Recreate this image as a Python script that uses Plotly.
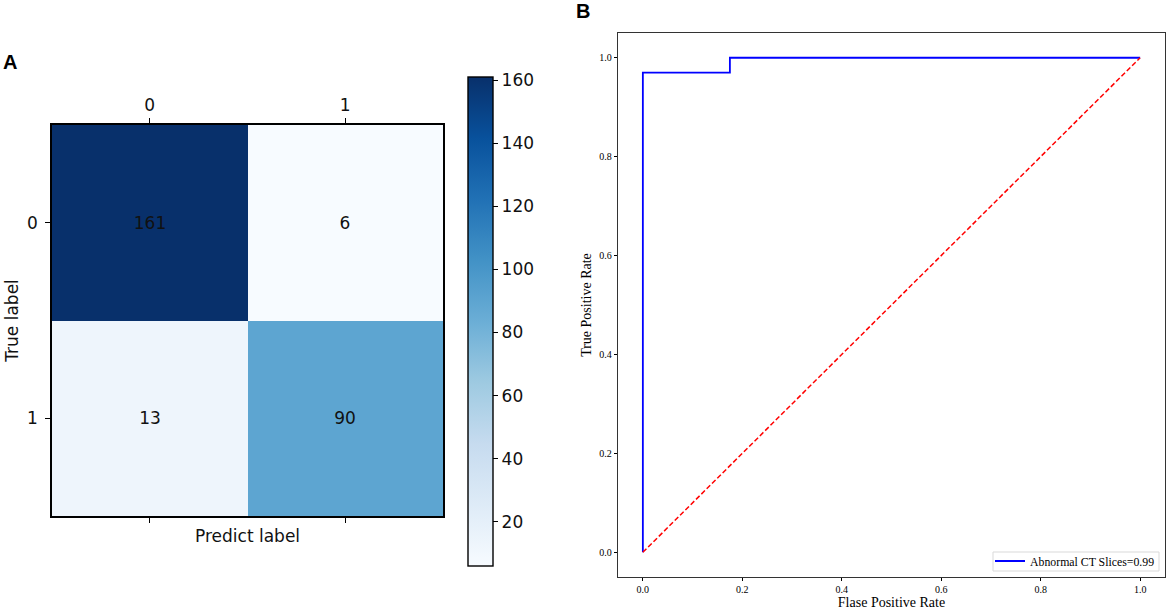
import plotly.graph_objects as go

W, H = 1170, 612

# Panel A data
cm_labels = [0, 1]
cm_values = [[161, 6], [13, 90]]
cbar_ticks = [20, 40, 60, 80, 100, 120, 140, 160]
blues = ["#f7fbff", "#deebf7", "#c6dbef", "#9ecae1", "#6baed6",
         "#4292c6", "#2171b5", "#08519c", "#08306b"]

# Panel B data
roc_fpr = [0.0, 0.0, 0.175, 0.175, 1.0]
roc_tpr = [0.0, 0.97, 0.97, 1.0, 1.0]
diag_x = [0, 1]
diag_y = [0, 1]
roc_ticks = [0.0, 0.2, 0.4, 0.6, 0.8, 1.0]
roc_name = "Abnormal CT Slices=0.99"


def fx(p):
    return p / W


def fy(p):
    return 1 - p / H


A_FONT = dict(family="DejaVu Sans", size=17, color="#111111")
fig = go.Figure()
colorscale = [[i / (len(blues) - 1), c] for i, c in enumerate(blues)]

fig.add_trace(go.Heatmap(
    z=cm_values, x=cm_labels, y=cm_labels, zmin=6, zmax=161,
    colorscale=colorscale, xgap=0, ygap=0,
    text=cm_values, texttemplate="%{text}",
    textfont=A_FONT,
    xaxis="x", yaxis="y", showscale=True,
    colorbar=dict(
        x=fx(468), xanchor="left", xpad=0, y=fy(321.5), yanchor="middle", ypad=0,
        thickness=25, thicknessmode="pixels",
        len=489, lenmode="pixels",
        tickmode="array", tickvals=cbar_ticks, tickprefix=" ",
        ticks="outside", ticklen=5, tickwidth=1, tickcolor="black",
        tickfont=A_FONT,
        outlinewidth=1.4, outlinecolor="black",
    ),
))

fig.add_trace(go.Scatter(
    x=roc_fpr, y=roc_tpr, mode="lines", name=roc_name,
    line=dict(color="#0000ff", width=1.8), xaxis="x2", yaxis="y2",
))
fig.add_trace(go.Scatter(
    x=diag_x, y=diag_y, mode="lines", showlegend=False,
    line=dict(color="#ff0000", width=1.5, dash="5px,2.5px"), xaxis="x2", yaxis="y2",
))

a_axis = dict(
    tickmode="array", tickvals=cm_labels, range=[-0.5, 1.5],
    showgrid=False, zeroline=False,
    showline=True, linecolor="black", linewidth=1.5,
    ticks="outside", ticklen=5, tickwidth=1, tickcolor="black",
    tickfont=A_FONT,
)
b_font = dict(family="Liberation Serif", size=10, color="black")
b_axis = dict(
    tickmode="array", tickvals=roc_ticks, tickformat=".1f",
    range=[-0.05, 1.05], showgrid=False, zeroline=False,
    showline=True, linecolor="#333333", linewidth=1.3, mirror=True,
    ticks="outside", ticklen=3, tickwidth=1, tickcolor="black",
    tickfont=b_font,
)
b_title = dict(family="Liberation Serif", size=14, color="black")

fig.update_layout(
    width=W, height=H, autosize=False,
    margin=dict(l=0, r=0, t=0, b=0),
    paper_bgcolor="white", plot_bgcolor="white",
    showlegend=True,
    xaxis=dict(a_axis, domain=[fx(52), fx(443)], anchor="y", side="top", mirror="allticks"),
    yaxis=dict(a_axis, domain=[fy(516), fy(125)], anchor="x",
               range=[1.5, -0.5], mirror=True, ticklabelstandoff=4,
               title=dict(text="True label", standoff=4, font=A_FONT)),
    xaxis2=dict(b_axis, domain=[fx(618), fx(1165)], anchor="y2",
                title=dict(text="Flase Positive Rate", standoff=2, font=b_title)),
    yaxis2=dict(b_axis, domain=[fy(577), fy(33)], anchor="x2",
                title=dict(text="True Positive Rate", standoff=4, font=b_title)),
    legend=dict(
        x=fx(1160), xanchor="right", y=fy(561), yanchor="middle",
        bgcolor="rgba(0,0,0,0)", borderwidth=0,
        font=dict(family="Liberation Serif", size=11.8, color="black"),
    ),
    shapes=[dict(type="rect", xref="paper", yref="paper", layer="below",
                 x0=fx(993), x1=fx(1159), y0=fy(571), y1=fy(552),
                 line=dict(color="#d9d9d9", width=1), fillcolor="white")],
    annotations=[
        dict(text="Predict label", x=fx(247.5), y=fy(536), xref="paper", yref="paper",
             showarrow=False, xanchor="center", yanchor="middle", font=A_FONT),
        dict(text="<b>A</b>", x=fx(1), y=fy(62), xref="paper", yref="paper",
             showarrow=False, xanchor="left", yanchor="middle",
             font=dict(family="Liberation Sans", size=20, color="black")),
        dict(text="<b>B</b>", x=fx(574), y=fy(11), xref="paper", yref="paper",
             showarrow=False, xanchor="left", yanchor="middle",
             font=dict(family="Liberation Sans", size=20, color="black")),
    ],
)

fig.write_html("out.html", config={"displayModeBar": False},
               post_script="document.body.style.margin='0';")
